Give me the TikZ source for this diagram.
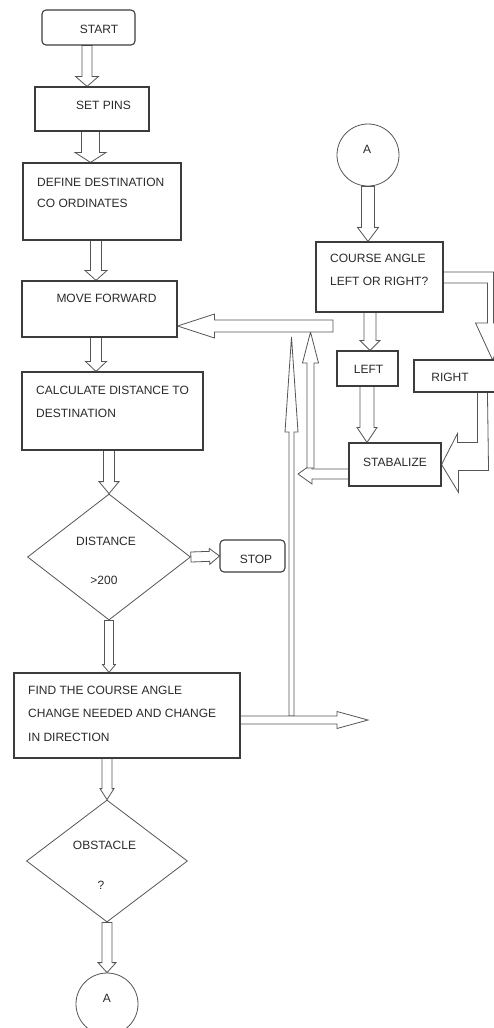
\documentclass[tikz,border=0pt]{standalone}
\usepackage{fontspec}
\setmainfont{Liberation Sans}
\usetikzlibrary{calc,shapes.geometric}
\definecolor{boxc}{HTML}{3C3C3C}
\definecolor{arrc}{HTML}{555555}
\definecolor{txtc}{HTML}{2A2A2A}
\pgfdeclarelayer{bg}
\pgfdeclarelayer{arr}
\pgfsetlayers{bg,arr,main}
\newcommand\barrow[5]{%
  \coordinate (ba1) at (#1);
  \coordinate (ba2) at (#2);
  \coordinate (bac) at ($(ba2)!#5!(ba1)$);
  \draw[barrowline] ($(ba1)!#3!90:(ba2)$) -- ($(bac)!#3!90:(ba2)$) -- ($(bac)!#4!90:(ba2)$) -- (ba2) -- ($(bac)!#4!-90:(ba2)$) -- ($(bac)!#3!-90:(ba2)$) -- ($(ba1)!#3!-90:(ba2)$) -- cycle;}
\begin{document}
\begin{tikzpicture}[x=1pt,y=-1pt,
  box/.style={draw=boxc,line width=1.1pt,minimum width=#1,inner sep=0},
  rbox/.style={box=#1,rounded corners=4pt},
  dia/.style={draw=arrc,line width=0.8pt,diamond,inner sep=0},
  circ/.style={draw=arrc,line width=0.8pt,circle,inner sep=0,minimum size=62pt},
  barrowline/.style={draw=arrc,line width=0.8pt,fill=white,line join=miter},
  lbl/.style={font=\fontsize{12}{14}\selectfont,text=txtc,inner sep=0,anchor=west},
  ctr/.style={font=\fontsize{12}{14}\selectfont,text=txtc,inner sep=0}]
\begin{pgfonlayer}{bg}
\fill[white] (0,0) rectangle (494,1028);
\end{pgfonlayer}
\clip (0,0) rectangle (494,1028);
\useasboundingbox (0,0) rectangle (494,1028);

% boxes
\node[rbox=93pt,minimum height=35pt] (start) at (88.5,27.5) {};
\node[box=114pt,minimum height=44pt] (setpins) at (92,109) {};
\node[box=158pt,minimum height=77pt] (define) at (102,201.5) {};
\node[box=155pt,minimum height=56pt] (move) at (99.5,309) {};
\node[box=181pt,minimum height=78pt] (calc) at (112.5,411) {};
\node[dia,minimum width=163pt,minimum height=126pt] (dist) at (109,557) {};
\node[rbox=65pt,minimum height=32pt] (stop) at (252.5,556) {};
\node[box=226pt,minimum height=85pt] (find) at (127,715.5) {};
\node[dia,minimum width=161pt,minimum height=122pt] (obst) at (107,861) {};
\node[circ] (circB) at (107,1004) {};
\node[circ] (circA) at (368,155) {};
\node[box=127pt,minimum height=70pt] (course) at (379.5,277) {};
\node[box=61pt,minimum height=35pt] (left) at (367.5,368.5) {};
\node[box=92pt,minimum height=43pt] (stab) at (395,464.5) {};
\node[box=106pt,minimum height=32pt] (right) at (467,376) {};

% texts
\node[ctr] (startT) at (99,29) {START};
\node[ctr] (setpinsT) at (103.5,105.5) {SET PINS};
\node[lbl] (defineT1) at (37,182) {DEFINE DESTINATION};
\node[lbl] (defineT2) at (37,203) {CO ORDINATES};
\node[ctr] (moveT) at (106.5,298) {MOVE FORWARD};
\node[lbl] (calcT1) at (36,390) {CALCULATE DISTANCE TO};
\node[lbl] (calcT2) at (36,413) {DESTINATION};
\node[ctr] (distT1) at (106,541) {DISTANCE};
\node[ctr] (distT2) at (104,580) {>200};
\node[ctr] (stopT) at (256,559) {STOP};
\node[lbl] (findT1) at (28,690) {FIND THE COURSE ANGLE};
\node[lbl] (findT2) at (28,713) {CHANGE NEEDED AND CHANGE};
\node[lbl] (findT3) at (28,737) {IN DIRECTION};
\node[ctr] (obstT1) at (104.5,845) {OBSTACLE};
\node[ctr] (obstT2) at (101,885) {?};
\node[ctr] (circBT) at (107,998) {A};
\node[ctr] (circAT) at (367,149) {A};
\node[lbl] (courseT1) at (330,258) {COURSE ANGLE};
\node[lbl] (courseT2) at (330,281) {LEFT OR RIGHT?};
\node[ctr] (leftT) at (368.5,369) {LEFT};
\node[ctr] (stabT) at (395,462) {STABALIZE};
\node[ctr] (rightT) at (450,377) {RIGHT};

% free ends
\coordinate (c13e) at (298,474);
\coordinate (c14s) at (310.5,468);
\coordinate (c14e) at (310.5,332);
\coordinate (c15s) at (333,326);
\coordinate (c16s) at (291.5,716);
\coordinate (c16e) at (291.5,337);
\coordinate (c17e) at (368,720);

\begin{pgfonlayer}{arr}
\barrow{start.south -| 87,0}{setpins.north -| 87,0}{5pt}{11.5pt}{10pt}
\barrow{setpins.south -| 90.5,0}{define.north -| 90.5,0}{9pt}{15.5pt}{10pt}
\barrow{define.south -| 96,0}{move.north -| 96,0}{5.5pt}{11pt}{10pt}
\barrow{move.south -| 96,0}{calc.north -| 96,0}{5.5pt}{10.5pt}{10pt}
\barrow{calc.south -| dist.north}{dist.north}{5.5pt}{10pt}{12pt}
\barrow{dist.east}{stop.west}{5pt}{8pt}{10pt}
\barrow{dist.south}{find.north -| dist.south}{4.5pt}{6.5pt}{8pt}
\barrow{find.south -| obst.north}{obst.north}{5pt}{7pt}{11pt}
\barrow{obst.south}{circB.north}{5pt}{9pt}{10pt}
\barrow{circA.south}{course.north -| circA.south}{6.5pt}{10.5pt}{14pt}
\barrow{course.south -| 370,0}{left.north -| 370,0}{6pt}{10pt}{10pt}
\barrow{left.south -| 367,0}{stab.north -| 367,0}{7pt}{10pt}{15pt}
\barrow{stab.west |- c13e}{c13e}{5pt}{10pt}{14pt}
\barrow{c14s}{c14e}{3.5pt}{8pt}{31pt}
\barrow{c15s}{move.east |- c15s}{6pt}{12pt}{37pt}
\barrow{c16s}{c16e}{2.5pt}{6.5pt}{95pt}
\barrow{find.east |- c17e}{c17e}{4pt}{8.5pt}{31pt}
% L-shaped block arrows
\draw[barrowline] ([yshift=5pt]course.east) -- ++(50,0) -- ++(0,51) -- ++(16,0)
  -- ++(-17,37) -- ++(-17,-37) -- ++(12,0) -- ++(0,-40) -- ++(-44,0) -- cycle;
\draw[barrowline] ([xshift=64pt]right.south west) -- ++(0,50) -- ++(-20,0) -- ++(0,-9)
  -- (stab.east) -- ++(17,28) -- ++(0,-22) -- ++(30,0) -- ([xshift=74pt]right.south west) -- cycle;
\end{pgfonlayer}
\end{tikzpicture}
\end{document}
